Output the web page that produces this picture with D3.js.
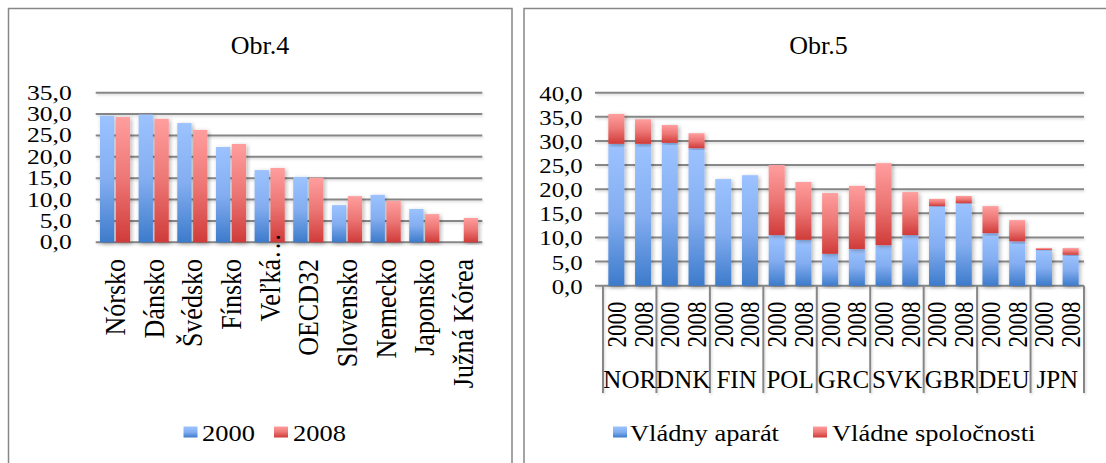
<!DOCTYPE html>
<html>
<head>
<meta charset="utf-8">
<script src="https://cdn.jsdelivr.net/npm/d3@7"></script>
<style>
  body { margin: 0; background: #fff; }
  svg { display: block; font-family: "Liberation Serif", "Times New Roman", serif; }
</style>
</head>
<body>
<svg id="chart" width="1106" height="463"></svg>
<script>
// Obr.4 data
const countries4 = ["Nórsko", "Dánsko", "Švédsko", "Fínsko", "Veľká…", "OECD32", "Slovensko", "Nemecko", "Japonsko", "Južná Kórea"];
const years4 = ["2000", "2008"];
const values2000 = [29.6, 29.9, 27.9, 22.3, 16.9, 15.3, 8.7, 11.1, 7.8, null];
const values2008 = [29.3, 28.9, 26.3, 23.0, 17.4, 15.1, 10.8, 9.7, 6.6, 5.7];
const ticks4 = [0, 5, 10, 15, 20, 25, 30, 35];

// Obr.5 data
const countries5 = ["NOR", "DNK", "FIN", "POL", "GRC", "SVK", "GBR", "DEU", "JPN"];
const years5 = ["2000", "2008"];
// order: NOR 2000, NOR 2008, DNK 2000, ...
const vladnyAparat = [29.4, 29.4, 29.6, 28.5, 22.1, 22.9, 10.5, 9.5, 6.6, 7.6, 8.4, 10.5, 16.5, 17.1, 10.9, 9.2, 7.4, 6.4];
const vladneSpolocnosti = [6.2, 5.1, 3.7, 3.1, 0, 0, 14.5, 12.0, 12.6, 13.1, 17.0, 8.9, 1.5, 1.5, 5.6, 4.4, 0.4, 1.4];
const ticks5 = [0, 5, 10, 15, 20, 25, 30, 35, 40];

const fmt = d3.formatLocale({decimal: ",", thousands: " ", grouping: [3], currency: ["", ""]}).format(".1f");

const svg = d3.select("#chart");
const gridColor = "#878787";

// gradients and shadow
const defs = svg.append("defs");
function gradient(id, stops) {
  const lg = defs.append("linearGradient").attr("id", id)
    .attr("x1", 0).attr("y1", 0).attr("x2", 0).attr("y2", 1);
  stops.forEach(s => lg.append("stop").attr("offset", s[0]).attr("stop-color", s[1]));
}
gradient("blue", [[0, "#9cc3ff"], [0.5, "#84aef1"], [1, "#3d7bcb"]]);
gradient("red", [[0, "#ff9e9e"], [0.5, "#ec7674"], [1, "#d03b3a"]]);

const shadow = defs.append("filter").attr("id", "shadow")
  .attr("x", "-30%").attr("y", "-10%").attr("width", "160%").attr("height", "120%");
shadow.append("feDropShadow").attr("dx", 1.5).attr("dy", 1.5)
  .attr("stdDeviation", 2).attr("flood-color", "#000").attr("flood-opacity", 0.3);
// lines have an empty box on one side, so use page units for the region
const lineShadow = defs.append("filter").attr("id", "lineShadow")
  .attr("filterUnits", "userSpaceOnUse")
  .attr("x", 0).attr("y", 0).attr("width", 1106).attr("height", 463);
lineShadow.append("feDropShadow").attr("dx", 1).attr("dy", 1.5)
  .attr("stdDeviation", 1).attr("flood-color", "#000").attr("flood-opacity", 0.15);

// stretched text helper
function label(g, x, y, text, size, sx, anchor, rotate) {
  return g.append("text")
    .attr("transform", `translate(${x},${y}) scale(${sx},1)` + (rotate ? " rotate(-90)" : ""))
    .attr("text-anchor", anchor)
    .attr("font-size", size + "px")
    .attr("fill", "#000")
    .text(text);
}

// panel frames
svg.append("path").attr("d", "M8.5,470 V8.5 H512 V470")
  .attr("fill", "none").attr("stroke", gridColor).attr("stroke-width", 1.5);
svg.append("path").attr("d", "M524,470 V8.5 H1110")
  .attr("fill", "none").attr("stroke", gridColor).attr("stroke-width", 1.5);

// ---------------- Obr.4 ----------------
const g4 = svg.append("g");
label(g4, 260, 54, "Obr.4", 25, 1.04, "middle");

const y4 = d3.scaleLinear().domain([0, 35]).range([242.3, 92.7]);
const x4 = d3.scaleBand().domain(countries4).range([95.7, 482.3]).paddingInner(0.22).paddingOuter(0.11);
const x4sub = d3.scaleBand().domain(years4).range([0, x4.bandwidth()]).paddingInner(0.1);

g4.append("g").selectAll("line").data(ticks4).join("line")
  .attr("x1", x4.range()[0]).attr("x2", x4.range()[1])
  .attr("y1", d => y4(d)).attr("y2", d => y4(d))
  .attr("stroke", gridColor).attr("stroke-width", 2).attr("filter", "url(#lineShadow)");

ticks4.forEach(t => label(g4, 71.7, y4(t) + 7, fmt(t), 21, 1.22, "end"));

const rows4 = countries4.map((c, i) => ({c, vals: [values2000[i], values2008[i]]}));
const groups4 = g4.append("g").selectAll("g").data(rows4).join("g")
  .attr("transform", d => `translate(${x4(d.c)},0)`);
groups4.selectAll("rect")
  .data(d => d.vals.map((v, j) => ({year: years4[j], v})).filter(e => e.v != null))
  .join("rect")
  .attr("x", d => x4sub(d.year))
  .attr("width", x4sub.bandwidth())
  .attr("y", d => y4(d.v))
  .attr("height", d => y4(0) - y4(d.v))
  .attr("fill", d => d.year === "2000" ? "url(#blue)" : "url(#red)")
  .attr("filter", "url(#shadow)");

countries4.forEach(c => {
  const cx = x4(c) + x4.bandwidth() / 2;
  const trunc = c.endsWith("…");
  label(g4, cx, 259, trunc ? c.slice(0, -1) : c, 26, 1.1, "end", true).attr("dy", "0.35em");
  if (trunc) label(g4, cx, 259, "…", 26, 1.1, "start", true).attr("dy", "0.35em");
});

// legend Obr.4
[["2000", "url(#blue)", 183.5, 202], ["2008", "url(#red)", 274, 293]].forEach(([t, f, sx, tx]) => {
  g4.append("rect").attr("x", sx).attr("y", 426.5).attr("width", 14).attr("height", 11).attr("fill", f);
  label(g4, tx, 441, t, 23, 1.15, "start");
});

// ---------------- Obr.5 ----------------
const g5 = svg.append("g");
label(g5, 818.5, 54, "Obr.5", 25, 1.04, "middle");

const y5 = d3.scaleLinear().domain([0, 40]).range([285.7, 92.7]);
const x5 = d3.scaleBand().domain(countries5).range([603, 1084]).padding(0);
const x5sub = d3.scaleBand().domain(years5).range([0, x5.bandwidth()]).paddingInner(0.4).paddingOuter(0.2);

g5.append("g").selectAll("line").data(ticks5).join("line")
  .attr("x1", 595).attr("x2", x5.range()[1])
  .attr("y1", d => y5(d)).attr("y2", d => y5(d))
  .attr("stroke", gridColor).attr("stroke-width", 2).attr("filter", "url(#lineShadow)");

ticks5.forEach(t => label(g5, 582.7, y5(t) + 8, fmt(t), 21, 1.18, "end"));

// category frame lines under the axis
const bounds = countries5.map(c => x5(c)).concat([x5.range()[1]]);
g5.append("g").selectAll("line").data(bounds).join("line")
  .attr("x1", d => d).attr("x2", d => d)
  .attr("y1", y5(0)).attr("y2", 393)
  .attr("stroke", gridColor).attr("stroke-width", 2).attr("filter", "url(#lineShadow)");

const rows5 = [];
countries5.forEach((c, i) => years5.forEach((yr, j) => {
  const k = i * 2 + j;
  rows5.push({c, yr, a: vladnyAparat[k], s: vladneSpolocnosti[k]});
}));
const stack = d3.stack().keys(["a", "s"])(rows5);

g5.append("g").selectAll("g").data(stack).join("g")
  .attr("fill", d => d.key === "a" ? "url(#blue)" : "url(#red)")
  .selectAll("rect").data(d => d.filter(e => e[1] - e[0] > 0)).join("rect")
  .attr("x", d => x5(d.data.c) + x5sub(d.data.yr))
  .attr("width", x5sub.bandwidth())
  .attr("y", d => y5(d[1]))
  .attr("height", d => y5(d[0]) - y5(d[1]))
  .attr("filter", "url(#shadow)");

rows5.forEach(r => {
  const cx = x5(r.c) + x5sub(r.yr) + x5sub.bandwidth() / 2;
  label(g5, cx, 301.5, r.yr, 23, 1.17, "end", true).attr("dy", "0.35em");
});
countries5.forEach(c => {
  label(g5, x5(c) + x5.bandwidth() / 2, 388.3, c, 25, 1, "middle");
});

// legend Obr.5
[["Vládny aparát", "url(#blue)", 613, 630], ["Vládne spoločnosti", "url(#red)", 813, 832]].forEach(([t, f, sx, tx]) => {
  g5.append("rect").attr("x", sx).attr("y", 426.5).attr("width", 14).attr("height", 11).attr("fill", f);
  label(g5, tx, 441, t, 23, 1.15, "start");
});
</script>
</body>
</html>
